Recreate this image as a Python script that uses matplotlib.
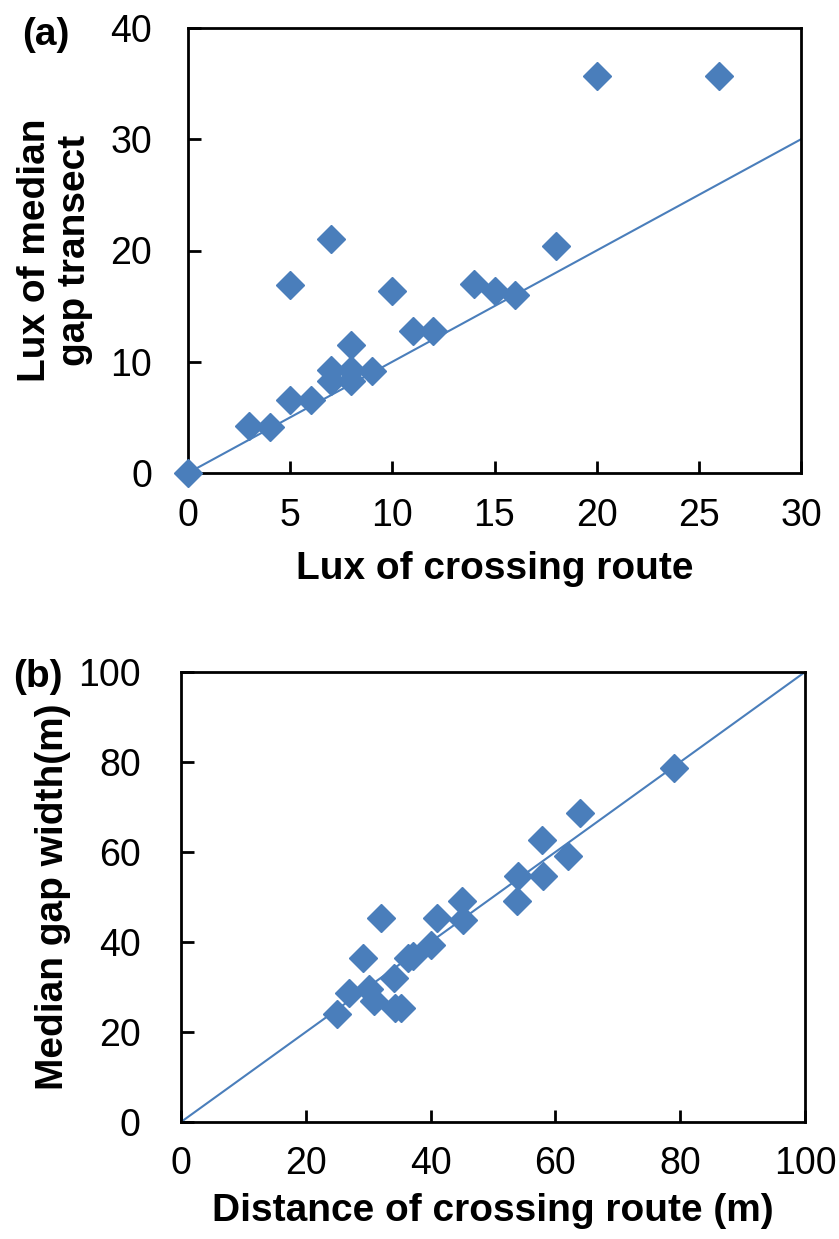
import numpy as np
import matplotlib
matplotlib.use('Agg')
import matplotlib.pyplot as plt

plt.rcParams['font.family'] = ['Liberation Sans', 'DejaVu Sans']

# (a) lux values
lux_route = [0, 3, 4, 5, 5, 6, 7, 7, 7, 8, 8, 8, 9, 10, 11, 12, 14, 15, 16, 18, 20, 26]
lux_gap = [0, 4.2, 4.1, 6.6, 16.9, 6.6, 21.0, 8.3, 9.3, 8.3, 11.5, 9.3, 9.2, 16.4,
           12.8, 12.8, 17.0, 16.4, 16.0, 20.4, 35.7, 35.7]
slope_a = 1.0

# (b) distance vs width
dist_route = [25, 26.9, 29.1, 30.2, 31, 32, 34.2, 34.3, 35.3, 36.3, 37.2, 40, 41,
              45, 45.2, 53.8, 54, 58, 57.9, 62, 64, 79]
gap_width = [24.1, 28.7, 36.5, 29.5, 26.9, 45.3, 31.9, 25.4, 25.4, 36.5, 36.9, 39.3,
             45.3, 49.1, 45.0, 49.1, 54.7, 54.7, 62.6, 59.1, 68.7, 78.7]
slope_b = 1.0

blue = '#4A7EBB'
tick_fs = 27
label_fs = 28

fig = plt.figure(figsize=(8.39, 12.39), dpi=100)
W, H = 839, 1239
ax1 = fig.add_axes([188 / W, 1 - 473 / H, 613 / W, 445 / H])
ax2 = fig.add_axes([181 / W, 1 - 1122 / H, 624 / W, 450 / H])


def style(ax, xpad, ypad):
    for s in ax.spines.values():
        s.set_linewidth(2)
    ax.tick_params(direction='in', length=9, width=2, labelsize=tick_fs,
                   top=False, right=False)
    ax.tick_params(axis='x', pad=xpad)
    ax.tick_params(axis='y', pad=ypad)


# panel a
xa = np.array([0, 30])
ax1.plot(xa, slope_a * xa, color=blue, lw=1.5, zorder=2)
ax1.plot(lux_route, lux_gap, 'D', color=blue, ms=14.5, zorder=3, clip_on=False)
ax1.set_xlim(0, 30)
ax1.set_ylim(0, 40)
ax1.set_xticks(range(0, 31, 5))
ax1.set_yticks(range(0, 41, 10))
style(ax1, 18, 26)
ax1.set_xlabel('Lux of crossing route', fontsize=label_fs, fontweight='bold', labelpad=12)
ax1.set_ylabel('Lux of median\ngap transect', fontsize=label_fs, fontweight='bold',
               labelpad=12, linespacing=1.15)
fig.text(22 / W, 1 - 35 / H, '(a)', fontsize=label_fs, fontweight='bold', va='center')

# panel b
xb = np.array([0, 100])
ax2.plot(xb, slope_b * xb, color=blue, lw=1.5, zorder=2)
ax2.plot(dist_route, gap_width, 'D', color=blue, ms=14.5, zorder=3, clip_on=False)
ax2.set_xlim(0, 100)
ax2.set_ylim(0, 100)
ax2.set_xticks(range(0, 101, 20))
ax2.set_yticks(range(0, 101, 20))
style(ax2, 17, 29)
ax2.set_xlabel('Distance of crossing route (m)', fontsize=label_fs, fontweight='bold', labelpad=8)
ax2.set_ylabel('Median gap width(m)', fontsize=label_fs, fontweight='bold', labelpad=5)
fig.text(13 / W, 1 - 677 / H, '(b)', fontsize=label_fs, fontweight='bold', va='center')

fig.savefig('out.png', dpi=100)
